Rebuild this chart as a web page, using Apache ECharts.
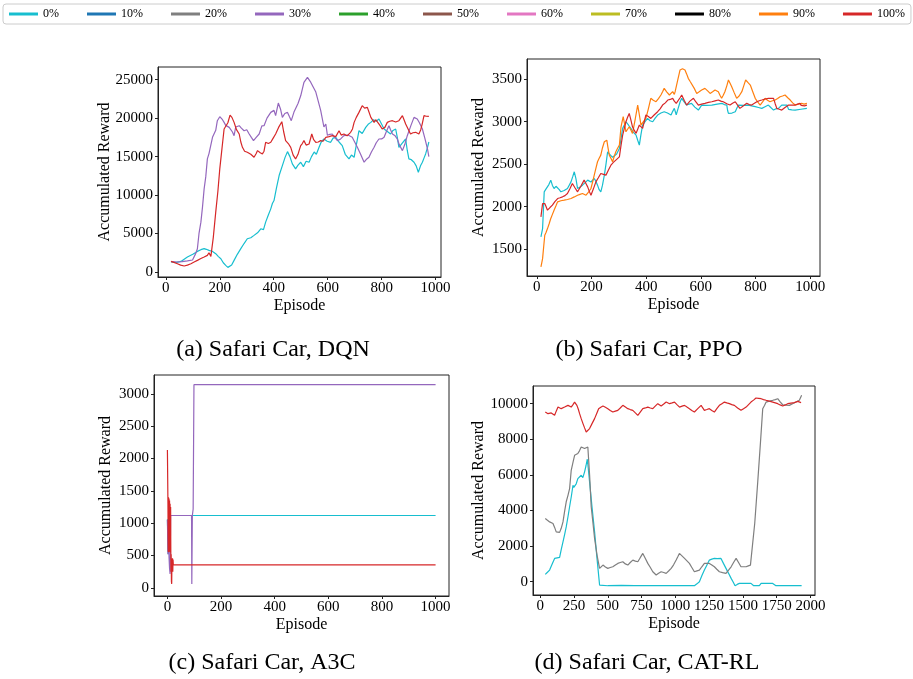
<!DOCTYPE html>
<html>
<head>
<meta charset="utf-8">
<script src="https://cdn.jsdelivr.net/npm/echarts@6/dist/echarts.min.js"></script>
<style>
html,body{margin:0;padding:0;background:#fff;}
#chart{width:913px;height:679px;}
</style>
</head>
<body>
<div id="chart"></div>
<script>
// legend entries and their colours
const legendNames = ['0%', '10%', '20%', '30%', '40%', '50%', '60%', '70%', '80%', '90%', '100%'];
const legendColors = ['#17becf', '#1f77b4', '#7f7f7f', '#9467bd', '#2ca02c', '#8c564b', '#e377c2', '#bcbd22', '#000000', '#ff7f0e', '#d62728'];

const panelTitles = ['(a) Safari Car, DQN', '(b) Safari Car, PPO', '(c) Safari Car, A3C', '(d) Safari Car, CAT-RL'];

// tick values
const ticksEp1000 = [0, 200, 400, 600, 800, 1000];
const ticksEp2000 = [0, 250, 500, 750, 1000, 1250, 1500, 1750, 2000];
const ticksDqn = [0, 5000, 10000, 15000, 20000, 25000];
const ticksPpo = [1500, 2000, 2500, 3000, 3500];
const ticksA3c = [0, 500, 1000, 1500, 2000, 2500, 3000];
const ticksCat = [0, 2000, 4000, 6000, 8000, 10000];

// (a) DQN  [episode, reward]
const dqn0 = [[19,1300],[40,1250],[56,1380],[80,1950],[100,2300],[117,2680],[130,2900],[142,3030],[150,2950],[160,2810],[172,2700],[185,2380],[195,2000],[204,1730],[213,1200],[222,865],[230,600],[235,520],[244,900],[253,1510],[265,2300],[278,3030],[290,3700],[302,4320],[315,4450],[327,4760],[340,5100],[352,5620],[362,5500],[370,6480],[380,7400],[389,8210],[395,8900],[401,9290],[410,10900],[420,12540],[432,13830],[442,14900],[451,15650],[460,15000],[469,14050],[481,13400],[490,13900],[500,14270],[510,13700],[520,14400],[531,14270],[540,15000],[550,15600],[558,15300],[568,16210],[576,16900],[586,17290],[598,17000],[611,16860],[620,17400],[630,17510],[642,16900],[654,16430],[665,15300],[679,14700],[688,15200],[698,14910],[706,16500],[716,18370],[728,18000],[741,18800],[750,19200],[760,19450],[770,19800],[780,19600],[790,19890],[800,19200],[809,18590],[820,18300],[833,17940],[842,18400],[852,18590],[858,17500],[864,16210],[875,16700],[889,17290],[895,15800],[901,14700],[910,14600],[920,14270],[928,13800],[936,12970],[944,13800],[951,14270],[958,14900],[963,15350],[970,16200],[975,16900]];
const dqn30 = [[21,1340],[40,1300],[60,1350],[80,1450],[99,1556],[105,1510],[111,2420],[117,3030],[123,5010],[130,6480],[136,8470],[142,10810],[148,12360],[154,14700],[160,15390],[173,17510],[185,18420],[191,19670],[200,20190],[210,19800],[216,19450],[222,19060],[235,18800],[247,18200],[253,17720],[259,18850],[272,19020],[280,18700],[290,18370],[300,18500],[309,17940],[317,17500],[325,17080],[335,17500],[346,17940],[356,19000],[364,19020],[375,20000],[389,20750],[401,21010],[407,20320],[417,21960],[425,21200],[432,20100],[441,20600],[451,20750],[458,20200],[465,19670],[475,20790],[481,20750],[490,21900],[500,22910],[506,23780],[512,24640],[525,25290],[537,24680],[543,24640],[556,23390],[562,23130],[574,21010],[580,20750],[586,18850],[593,19240],[599,17770],[608,17900],[617,17940],[626,17500],[636,17080],[648,17300],[660,17720],[675,17800],[691,17510],[700,16900],[710,16210],[722,15300],[735,14270],[745,14700],[753,14910],[762,15600],[772,16210],[780,16800],[790,17290],[800,17300],[809,17510],[818,18300],[827,19020],[833,18500],[840,17940],[850,17700],[858,17290],[866,16500],[877,15780],[886,16600],[895,17720],[908,19000],[920,20100],[932,19890],[940,19400],[951,18590],[960,17400],[970,15990],[975,15000]];
const dqn100 = [[19,1383],[30,1250],[43,1080],[55,900],[68,780],[80,900],[93,1080],[105,1300],[117,1510],[130,1750],[142,1950],[154,2160],[160,2500],[167,2030],[169,2590],[176,4500],[185,7780],[193,10500],[200,13400],[208,16000],[216,18590],[222,18700],[230,19400],[238,20400],[245,20100],[253,19450],[262,18500],[272,17940],[278,16900],[284,16210],[292,15700],[302,15560],[315,15300],[327,14910],[335,15400],[340,15780],[350,15500],[358,15350],[364,15700],[370,16860],[380,16700],[389,16860],[398,17400],[407,17940],[418,18800],[430,19540],[437,18200],[444,17080],[454,16700],[463,16210],[472,15200],[481,14700],[490,15300],[494,15780],[500,16430],[506,16700],[512,17080],[520,16500],[531,16640],[541,17940],[548,17200],[556,16860],[565,16900],[574,17080],[583,17000],[593,17510],[605,17600],[617,17720],[630,17600],[642,18370],[650,17800],[660,17940],[672,17700],[685,18160],[692,18600],[698,19450],[706,20100],[716,20750],[728,21620],[737,21300],[747,21400],[754,20700],[760,20100],[772,19450],[778,19800],[784,19890],[793,19100],[802,18590],[812,18800],[821,19450],[830,19600],[840,19670],[852,19500],[864,19670],[870,19900],[877,20320],[883,19800],[889,19240],[898,18600],[907,17940],[916,18100],[926,18160],[932,18000],[938,17940],[945,18500],[950,19200],[957,20320],[965,20250],[975,20230]];

// (b) PPO
const ppo0 = [[15,1645],[21,1743],[27,2175],[32,2200],[37,2214],[44,2260],[51,2312],[57,2250],[63,2214],[70,2240],[76,2253],[82,2200],[88,2175],[100,2190],[112,2214],[118,2250],[125,2292],[131,2350],[137,2410],[143,2330],[149,2214],[158,2230],[167,2253],[176,2280],[186,2312],[198,2290],[210,2331],[216,2300],[222,2253],[228,2200],[234,2175],[240,2250],[247,2371],[253,2500],[259,2645],[265,2620],[271,2606],[277,2580],[283,2567],[292,2620],[302,2684],[308,2800],[314,2920],[320,2960],[326,2998],[335,2960],[344,2920],[352,2880],[363,2841],[369,2780],[375,2724],[381,2850],[387,2959],[396,3000],[405,3037],[414,3010],[424,2998],[433,3040],[442,3077],[454,3100],[466,3116],[478,3100],[491,3077],[497,3120],[503,3155],[510,3080],[517,3155],[524,3230],[530,3273],[539,3230],[548,3194],[557,3205],[566,3214],[578,3170],[591,3135],[603,3194],[620,3190],[640,3194],[660,3205],[677,3214],[686,3200],[695,3194],[698,3130],[701,3096],[714,3100],[726,3116],[732,3160],[738,3194],[756,3190],[774,3194],[786,3185],[799,3175],[811,3165],[823,3155],[835,3175],[847,3194],[856,3165],[866,3135],[875,3150],[884,3155],[890,3175],[896,3194],[905,3194],[915,3194],[921,3143],[933,3138],[945,3135],[966,3145],[988,3155]];
const ppo90 = [[15,1292],[18,1340],[21,1390],[25,1530],[29,1665],[34,1700],[39,1743],[45,1800],[51,1861],[57,1910],[63,1959],[70,2010],[76,2057],[88,2070],[100,2077],[112,2085],[125,2096],[137,2115],[149,2135],[158,2145],[167,2155],[174,2140],[180,2135],[189,2170],[198,2214],[204,2290],[210,2371],[216,2450],[222,2528],[228,2570],[234,2606],[240,2690],[247,2763],[256,2782],[260,2700],[265,2606],[271,2570],[277,2528],[283,2590],[289,2645],[296,2690],[302,2724],[308,2939],[312,3000],[316,3057],[321,2970],[326,2880],[332,2910],[338,2939],[344,2900],[350,2861],[360,3030],[369,3194],[375,3080],[381,2959],[390,3000],[399,3037],[408,3150],[417,3273],[426,3250],[436,3233],[445,3270],[454,3312],[460,3350],[466,3390],[475,3350],[485,3312],[491,3290],[497,3351],[503,3320],[506,3351],[515,3480],[524,3606],[533,3620],[542,3606],[548,3560],[554,3508],[561,3470],[567,3449],[576,3390],[585,3331],[594,3350],[603,3371],[615,3390],[625,3360],[634,3331],[643,3350],[652,3371],[664,3351],[670,3310],[676,3273],[682,3310],[688,3351],[695,3420],[701,3488],[707,3450],[713,3410],[722,3340],[731,3273],[740,3300],[750,3351],[757,3420],[764,3488],[772,3460],[781,3429],[790,3350],[799,3273],[808,3230],[817,3194],[826,3230],[835,3273],[844,3250],[853,3233],[862,3245],[872,3253],[881,3270],[890,3292],[899,3300],[908,3312],[918,3280],[927,3253],[936,3220],[945,3194],[957,3205],[969,3214],[978,3205],[988,3214]];
const ppo100 = [[15,1880],[18,1960],[21,2037],[25,2040],[29,2037],[34,2000],[39,1959],[48,1990],[57,2018],[66,2060],[76,2096],[85,2105],[94,2116],[103,2130],[112,2155],[121,2210],[130,2273],[140,2220],[149,2175],[161,2240],[173,2312],[180,2270],[186,2233],[192,2180],[198,2135],[207,2210],[216,2292],[225,2340],[234,2390],[244,2380],[253,2371],[262,2430],[271,2488],[280,2520],[289,2547],[296,2570],[302,2586],[308,2720],[314,2841],[320,2920],[326,2998],[332,3050],[338,3096],[344,3020],[350,2939],[356,2900],[363,2861],[369,2910],[375,2959],[381,2940],[387,2920],[393,3000],[399,3077],[408,3060],[417,3037],[430,3080],[442,3116],[451,3150],[460,3194],[470,3220],[479,3253],[488,3260],[497,3273],[503,3240],[510,3214],[517,3233],[524,3280],[530,3312],[539,3250],[548,3194],[560,3240],[573,3273],[582,3230],[591,3194],[603,3205],[615,3214],[628,3225],[640,3233],[652,3243],[664,3253],[673,3240],[682,3233],[695,3210],[707,3194],[716,3215],[726,3233],[735,3190],[743,3155],[756,3185],[768,3214],[777,3200],[786,3194],[796,3215],[805,3233],[814,3245],[823,3253],[835,3265],[847,3273],[857,3273],[866,3273],[872,3210],[878,3155],[887,3145],[896,3135],[908,3165],[921,3194],[933,3194],[945,3194],[954,3205],[963,3214],[967,3190],[970,3175],[979,3185],[988,3194]];

// (c) A3C
const a3c0 = [[0,1060],[3,520],[6,1119],[1000,1119]];
const a3c30 = [[0,1050],[2,520],[4,1000],[6,480],[8,300],[10,216],[12,1119],[90,1119],[91,62],[92,62],[93,1119],[96,1220],[99,3140],[1000,3140]];
const a3c100 = [[0,2130],[1,2100],[2,1300],[3,560],[4,1400],[5,550],[6,1380],[7,600],[8,1350],[9,560],[10,1300],[11,550],[12,1250],[13,250],[14,520],[15,100],[16,62],[17,450],[18,300],[19,460],[20,250],[21,440],[22,356],[1000,356]];

// (d) CAT-RL
const cat0 = [[37,410],[53,530],[69,655],[88,1000],[106,1310],[125,1340],[143,1365],[155,1800],[168,2240],[180,2650],[192,3080],[205,3650],[217,4210],[230,4800],[242,5420],[248,5300],[254,5230],[266,5500],[278,5790],[290,5700],[303,5980],[315,5850],[328,6170],[338,6500],[348,6880],[356,6300],[365,5610],[383,4200],[402,2800],[420,1300],[439,-187],[450,-225],[500,-225],[600,-210],[700,-215],[800,-215],[900,-215],[1000,-220],[1141,-225],[1160,-120],[1178,0],[1196,330],[1215,655],[1233,930],[1252,1215],[1270,1270],[1289,1310],[1310,1300],[1338,1310],[1356,1030],[1375,750],[1394,470],[1413,187],[1428,-20],[1442,-225],[1458,-150],[1474,-95],[1520,-95],[1560,-95],[1570,-160],[1580,-225],[1622,-225],[1635,-95],[1680,-95],[1721,-95],[1745,-225],[1800,-225],[1935,-225]];
const cat20 = [[37,3550],[53,3450],[69,3360],[81,3300],[94,3270],[106,3050],[118,2800],[130,2790],[143,2770],[155,3000],[168,3360],[180,3950],[192,4490],[205,4850],[217,5230],[229,6260],[242,6700],[254,7100],[266,7150],[278,7200],[290,7350],[303,7570],[315,7520],[328,7480],[340,7530],[352,7570],[365,6000],[377,4210],[390,3300],[402,2430],[420,1500],[439,750],[452,850],[464,935],[482,830],[500,750],[518,800],[537,840],[556,940],[574,1030],[592,1080],[611,1120],[630,1000],[648,935],[666,1080],[685,1215],[704,1160],[722,1120],[740,1350],[759,1590],[778,1300],[796,1030],[815,800],[833,560],[846,460],[858,375],[876,470],[895,560],[914,520],[932,470],[950,600],[969,750],[987,950],[1006,1215],[1018,1400],[1030,1590],[1049,1450],[1068,1310],[1086,1170],[1104,1030],[1122,800],[1141,560],[1160,610],[1178,655],[1196,840],[1215,1030],[1233,1030],[1252,1030],[1270,940],[1289,840],[1307,700],[1326,560],[1350,510],[1375,470],[1394,650],[1413,840],[1431,1080],[1450,1310],[1468,1080],[1486,840],[1505,840],[1524,840],[1540,890],[1556,935],[1566,935],[1588,3300],[1610,5610],[1630,7800],[1647,9720],[1660,9900],[1672,10090],[1696,10140],[1721,10190],[1740,10230],[1758,10280],[1776,10100],[1795,9940],[1820,9920],[1844,9905],[1868,10000],[1893,10090],[1905,10140],[1918,10190],[1927,10300],[1935,10470]];
const cat100 = [[37,9530],[47,9480],[57,9440],[69,9460],[81,9480],[94,9400],[106,9345],[118,9580],[131,9810],[143,9760],[155,9720],[180,9810],[205,9905],[217,9850],[229,9810],[242,9950],[254,10090],[262,10000],[271,9905],[281,9700],[291,9440],[303,9160],[316,8880],[328,8640],[340,8410],[352,8480],[365,8600],[383,8880],[402,9160],[417,9440],[432,9720],[448,9800],[464,9870],[482,9800],[500,9720],[518,9620],[537,9530],[556,9580],[574,9625],[592,9760],[611,9905],[630,9810],[648,9720],[666,9670],[685,9625],[704,9480],[722,9345],[740,9530],[759,9720],[778,9760],[796,9810],[815,9760],[833,9720],[851,9860],[870,10000],[883,9930],[895,9870],[914,9980],[932,10090],[945,10040],[957,10000],[976,10045],[994,10090],[1012,9950],[1031,9810],[1050,9860],[1068,9905],[1086,9810],[1104,9720],[1122,9620],[1141,9530],[1154,9620],[1166,9720],[1178,9810],[1191,9905],[1203,9760],[1215,9625],[1233,9670],[1252,9720],[1270,9620],[1289,9530],[1307,9720],[1326,9905],[1345,10000],[1363,10090],[1381,10045],[1400,10000],[1418,9950],[1437,9905],[1461,9760],[1486,9625],[1505,9720],[1524,9810],[1542,9950],[1560,10090],[1579,10200],[1597,10320],[1616,10300],[1635,10280],[1653,10230],[1672,10190],[1696,10140],[1721,10090],[1740,10045],[1758,10000],[1776,9930],[1795,9870],[1814,9930],[1832,10000],[1856,10030],[1881,10060],[1893,10095],[1906,10130],[1918,10100],[1931,10060]];

const serif = '"Liberation Serif", "DejaVu Serif", serif';
const frameColor = '#222';

function colorOf(name) {
	return legendColors[legendNames.indexOf(name)];
}

function makeLine(name, data, idx) {
	return {
		type: 'line',
		name: name,
		data: data,
		xAxisIndex: idx,
		yAxisIndex: idx,
		symbol: 'none',
		showSymbol: false,
		lineStyle: {width: 1.2, color: colorOf(name)},
		itemStyle: {color: colorOf(name)},
		animation: false
	};
}

function makeGrid(left, top, width, height) {
	return {left: left, top: top, width: width, height: height, show: true,
		borderColor: frameColor, borderWidth: 1, backgroundColor: '#fff', outerBoundsMode: 'none'};
}

function makeAxis(dir, idx, min, max, ticks, name, gap) {
	return {
		type: 'value',
		gridIndex: idx,
		min: min,
		max: max,
		name: name,
		nameLocation: 'middle',
		nameGap: gap,
		nameMoveOverlap: false,
		nameTextStyle: {fontFamily: serif, fontSize: 16, color: '#000'},
		splitLine: {show: false},
		axisLine: {show: true, onZero: false, lineStyle: {color: frameColor, width: 1}},
		axisTick: {show: true, length: 3, lineStyle: {color: frameColor}, customValues: ticks},
		axisLabel: {show: true, fontFamily: serif, fontSize: 15, color: '#000',
			margin: dir === 'x' ? 4 : 5, customValues: ticks, hideOverlap: false,
			formatter: function (v) { return String(v); }}
	};
}

const grids = [
	makeGrid(158, 67, 283, 210),
	makeGrid(527, 59, 293, 217),
	makeGrid(154, 375, 295, 221),
	makeGrid(533, 386, 282, 209)
];

const xAxes = [
	makeAxis('x', 0, -29, 1020, ticksEp1000, 'Episode', 21),
	makeAxis('x', 1, -36, 1036, ticksEp1000, 'Episode', 21),
	makeAxis('x', 2, -50, 1050, ticksEp1000, 'Episode', 21),
	makeAxis('x', 3, -54, 2034, ticksEp2000, 'Episode', 21)
];
const yAxes = [
	makeAxis('y', 0, -650, 26650, ticksDqn, 'Accumulated Reward', 45),
	makeAxis('y', 1, 1186, 3735, ticksPpo, 'Accumulated Reward', 40),
	makeAxis('y', 2, -125, 3290, ticksA3c, 'Accumulated Reward', 40),
	makeAxis('y', 3, -746, 10993, ticksCat, 'Accumulated Reward', 46)
];

const series = [
	makeLine('0%', dqn0, 0), makeLine('30%', dqn30, 0), makeLine('100%', dqn100, 0),
	makeLine('0%', ppo0, 1), makeLine('90%', ppo90, 1), makeLine('100%', ppo100, 1),
	makeLine('0%', a3c0, 2), makeLine('30%', a3c30, 2), makeLine('100%', a3c100, 2),
	makeLine('0%', cat0, 3), makeLine('20%', cat20, 3), makeLine('100%', cat100, 3)
];
// legend-only entries (no curve in any panel)
['10%', '40%', '50%', '60%', '70%', '80%'].forEach(function (n) {
	series.push(makeLine(n, [], 0));
});

const titleSpots = [[273, 350], [649, 350], [262, 663], [647, 663]];
const graphics = panelTitles.map(function (t, i) {
	return {
		type: 'text', x: titleSpots[i][0], y: titleSpots[i][1],
		style: {text: t, fill: '#000', font: '24px ' + serif, align: 'center', verticalAlign: 'middle'}
	};
});

const myChart = echarts.init(document.getElementById('chart'), null, {renderer: 'canvas'});
myChart.setOption({
	backgroundColor: '#fff',
	animation: false,
	legend: {
		data: legendNames,
		left: 3,
		top: 4,
		width: 908,
		padding: [4, 6],
		itemWidth: 29,
		itemHeight: 3,
		itemGap: 28,
		icon: 'rect',
		borderColor: '#ccc',
		borderWidth: 1,
		borderRadius: 3,
		backgroundColor: '#fff',
		textStyle: {fontFamily: serif, fontSize: 12, color: '#000'}
	},
	grid: grids,
	xAxis: xAxes,
	yAxis: yAxes,
	series: series,
	graphic: graphics
});
</script>
</body>
</html>
